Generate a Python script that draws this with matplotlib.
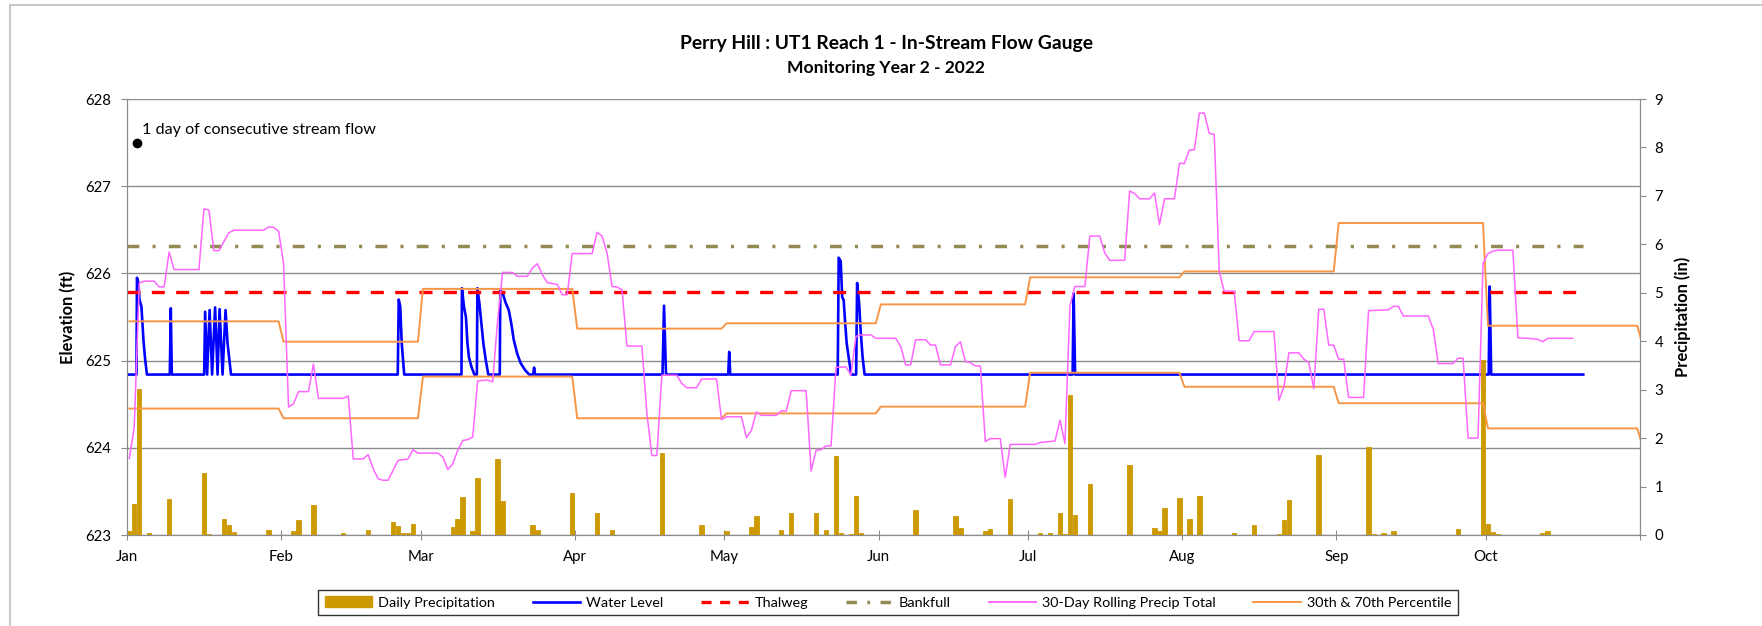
import pandas as pd
import matplotlib
matplotlib.use('Agg')
import matplotlib.pyplot as plt
from matplotlib.lines import Line2D
from matplotlib.patches import Patch, Rectangle

plt.rcParams['font.family'] = ['Lato', 'DejaVu Sans']

start = pd.Timestamp('2022-01-01')
end = pd.Timestamp('2022-11-01')
mid = pd.Timedelta(hours=11)  # daily values sit in the middle of their day

# daily precipitation (in), day offset from Jan 1
precip_day = [0, 1, 2, 4, 8, 15, 16, 19, 20, 21, 28, 33, 34, 37, 43, 48, 53, 54, 55, 56,
              57, 65, 66, 67, 69, 70, 74, 75, 81, 82, 89, 94, 97, 107, 115, 120, 125, 126,
              131, 133, 138, 140, 142, 143, 145, 146, 147, 158, 166, 167, 172, 173, 177,
              183, 185, 187, 188, 189, 190, 193, 201, 206, 207, 208, 211, 213, 215, 222,
              226, 231, 232, 233, 239, 249, 250, 252, 254, 267, 272, 273, 274, 275, 284, 285]
precip_in = [0.08, 0.64, 3.02, 0.04, 0.75, 1.28, 0.02, 0.33, 0.21, 0.07, 0.10, 0.09, 0.30,
             0.61, 0.05, 0.10, 0.26, 0.19, 0.05, 0.05, 0.23, 0.16, 0.33, 0.78, 0.08, 1.18,
             1.57, 0.71, 0.21, 0.10, 0.87, 0.45, 0.10, 1.69, 0.21, 0.08, 0.17, 0.40, 0.10,
             0.45, 0.46, 0.10, 1.63, 0.04, 0.02, 0.81, 0.05, 0.52, 0.39, 0.15, 0.08, 0.12,
             0.75, 0.05, 0.05, 0.46, 0.02, 2.89, 0.41, 1.06, 1.45, 0.15, 0.09, 0.56, 0.77,
             0.32, 0.80, 0.04, 0.21, 0.02, 0.30, 0.73, 1.66, 1.82, 0.02, 0.04, 0.08, 0.12,
             3.61, 0.23, 0.07, 0.03, 0.04, 0.09]

# water level (ft), fractional day offset from Jan 1
wl_day = [0, 1.9, 2.0, 2.3, 2.5, 2.9, 3.1, 3.3, 3.6, 4.0,
          8.6, 8.8, 9.0,
          15.5, 15.7, 16.1, 16.6, 17.1, 17.7, 18.2, 18.6, 19.2, 19.8, 20.2, 20.9,
          54.4, 54.6, 54.9, 55.2, 55.7,
          67.2, 67.3, 67.7, 68.1, 68.4, 68.7, 69.2, 69.8,
          70.3, 70.4, 70.8, 71.2, 71.6, 72.1, 72.6,
          74.9, 75.0, 75.5, 76.1, 76.7, 77.2, 77.7, 78.4, 79.1, 80.0, 80.8, 81.6, 81.8, 82.0,
          107.6, 107.9, 108.3, 120.8, 121.0, 121.2,
          142.8, 143.0, 143.4, 143.7, 144.0, 144.3, 144.6, 145.0, 145.5,
          146.5, 146.7, 147.1, 147.4, 147.8, 148.2,
          190.0, 190.2, 190.5, 273.6, 273.8, 274.1, 292.6]
wl_ft = [624.84, 624.84, 625.95, 625.89, 625.70, 625.62, 625.43, 625.24, 625.04, 624.84,
         624.84, 625.60, 624.84,
         624.84, 625.56, 624.84, 625.58, 624.84, 625.61, 624.84, 625.59, 624.84, 625.58, 625.20, 624.84,
         624.84, 625.70, 625.62, 625.20, 624.84,
         624.84, 625.83, 625.62, 625.50, 625.20, 625.04, 624.93, 624.84,
         624.84, 625.83, 625.66, 625.43, 625.20, 625.00, 624.84,
         624.84, 625.81, 625.77, 625.66, 625.58, 625.43, 625.24, 625.08, 624.97, 624.89, 624.84,
         624.84, 624.92, 624.84,
         624.84, 625.63, 624.84, 624.84, 625.10, 624.84,
         624.84, 626.18, 626.14, 625.73, 625.69, 625.43, 625.20, 625.04, 624.84,
         624.84, 625.89, 625.66, 625.35, 625.04, 624.84,
         624.84, 625.77, 624.84, 624.84, 625.85, 624.84, 624.84]

thalweg_ft = 625.79
bankfull_ft = 626.31
ref_end_day = 292.6

# 30-day rolling precipitation total (in)
roll_day = [0, 1, 2, 3, 5, 6, 7, 8, 9, 14, 15, 16, 17, 18, 20, 21, 27, 28, 29, 30, 31, 32,
            33, 34, 36, 37, 38, 43, 44, 45, 47, 48, 49, 50, 51, 52, 54, 56, 57, 58, 62, 63,
            64, 65, 66, 67, 68, 69, 70, 72, 73, 74, 75, 77, 78, 80, 81, 82, 83, 84, 86, 87,
            88, 89, 93, 94, 95, 96, 97, 98, 99, 100, 103, 104, 105, 106, 107, 110, 111, 112,
            114, 115, 118, 119, 120, 123, 124, 125, 126, 127, 130, 131, 132, 133, 136, 137,
            138, 139, 140, 141, 142, 144, 145, 146, 147, 149, 150, 154, 155, 156, 157, 158,
            160, 161, 162, 163, 165, 166, 167, 168, 169, 170, 171, 172, 173, 175, 176, 177,
            182, 183, 186, 187, 188, 189, 190, 192, 193, 195, 196, 197, 200, 201, 202, 203,
            205, 206, 207, 208, 210, 211, 212, 213, 214, 215, 216, 217, 218, 219, 220, 222,
            223, 225, 226, 230, 231, 232, 233, 235, 236, 237, 238, 239, 240, 241, 242, 243,
            244, 245, 248, 249, 253, 254, 255, 256, 261, 262, 263, 266, 267, 268, 269, 271,
            272, 273, 274, 275, 278, 279, 281, 283, 284, 285, 290]
roll_in = [1.58, 2.23, 5.20, 5.24, 5.24, 5.12, 5.12, 5.84, 5.48, 5.48, 6.73, 6.71, 5.87,
           5.87, 6.24, 6.29, 6.29, 6.36, 6.35, 6.27, 5.61, 2.64, 2.71, 2.96, 2.96, 3.53,
           2.82, 2.82, 2.87, 1.57, 1.57, 1.66, 1.37, 1.16, 1.13, 1.13, 1.54, 1.57, 1.76,
           1.69, 1.69, 1.61, 1.35, 1.47, 1.75, 1.95, 1.97, 2.02, 3.18, 3.20, 3.16, 4.41,
           5.42, 5.42, 5.34, 5.34, 5.51, 5.60, 5.37, 5.21, 5.17, 4.96, 4.96, 5.81, 5.81,
           6.25, 6.17, 5.82, 5.13, 5.12, 5.06, 3.90, 3.90, 2.51, 1.64, 1.64, 3.30, 3.30,
           3.13, 3.04, 3.04, 3.22, 3.22, 2.38, 2.44, 2.44, 2.01, 2.16, 2.54, 2.47, 2.47,
           2.56, 2.56, 2.98, 2.98, 1.32, 1.75, 1.76, 1.84, 1.84, 3.46, 3.47, 3.30, 4.10,
           4.13, 4.13, 4.06, 4.06, 3.89, 3.51, 3.51, 4.03, 4.03, 3.92, 3.92, 3.51, 3.51,
           3.89, 3.99, 3.58, 3.56, 3.49, 3.49, 1.93, 1.99, 1.99, 1.19, 1.87, 1.87, 1.91,
           1.94, 2.37, 1.89, 4.73, 5.13, 5.13, 6.17, 6.17, 5.82, 5.67, 5.67, 7.10, 7.05,
           6.94, 6.94, 7.06, 6.41, 6.94, 6.94, 7.67, 7.67, 7.95, 7.95, 8.71, 8.71, 8.29,
           8.27, 5.44, 5.03, 5.03, 4.01, 4.01, 4.20, 4.20, 2.78, 3.06, 3.76, 3.76, 3.63,
           3.56, 3.02, 4.66, 4.66, 3.92, 3.92, 3.63, 3.63, 2.84, 2.84, 4.63, 4.65, 4.72,
           4.72, 4.52, 4.52, 4.25, 3.54, 3.54, 3.65, 3.65, 2.00, 2.00, 5.61, 5.81, 5.86,
           5.88, 5.88, 4.07, 4.06, 4.04, 3.99, 4.06, 4.06]

# monthly 30th / 70th percentile of 30-day totals (in), Jan..Nov
pct_months = pd.date_range('2022-01-01', '2022-11-01', freq='MS')
pct70_in = [4.41, 3.99, 5.08, 4.26, 4.37, 4.76, 5.32, 5.44, 6.44, 4.32, 3.95]
pct30_in = [2.61, 2.41, 3.27, 2.41, 2.51, 2.65, 3.35, 3.06, 2.72, 2.20, 1.85]

month_labels = ['Jan', 'Feb', 'Mar', 'Apr', 'May', 'Jun', 'Jul', 'Aug', 'Sep', 'Oct', '']
note_day, note_ft = 2.1, 627.5
note_text = '1 day of consecutive stream flow'

c_bar = '#CC9900'
c_wl = '#0000FF'
c_thal = '#FF0000'
c_bank = '#948A54'
c_roll = '#FF66FF'
c_pct = '#F79646'
c_grid = '#8C8C8C'


def days(d):
    return [start + pd.Timedelta(days=x) for x in d]


fig = plt.figure(figsize=(17.62, 6.26), dpi=100)
fig.patches.append(Rectangle((10 / 1762, -0.1), 1.2, 1.1 - 5 / 626, transform=fig.transFigure,
                             fill=False, edgecolor='#BDBDBD', linewidth=1.2))

ax = fig.add_axes([127 / 1762, 1 - 535 / 626, (1640 - 127) / 1762, (535 - 99) / 626])
ax2 = ax.twinx()

# right axis: precipitation
ax2.bar(days(precip_day), precip_in, width=0.9, align='edge', color=c_bar,
        edgecolor=c_bar, linewidth=0.6, zorder=1)
roll_x = [t + mid for t in days(roll_day)]
ax2.plot(roll_x, roll_in, color=c_roll, lw=1.1, zorder=3)
for vals in (pct70_in, pct30_in):
    xs, ys = [], []
    for i, m in enumerate(pct_months):
        last = pct_months[i + 1] - pd.Timedelta(days=1) if i + 1 < len(pct_months) else m
        xs += [m + mid, last + mid]
        ys += [vals[i], vals[i]]
    ax2.plot(xs, ys, color=c_pct, lw=1.4, zorder=2)

# left axis: elevation
ax.plot(days(wl_day), wl_ft, color=c_wl, lw=1.9, zorder=3)
ref_x = [start, start + pd.Timedelta(days=ref_end_day)]
ax.plot(ref_x, [thalweg_ft] * 2, color=c_thal, lw=2.4, dashes=(3.9, 3.4), zorder=4)
ax.plot(ref_x, [bankfull_ft] * 2, color=c_bank, lw=2.5, dashes=(3.4, 3.8, 0.9, 3.8), zorder=4)
ax.plot(days([note_day]), [note_ft], 'o', color='black', ms=6, zorder=5)
ax.text(start + pd.Timedelta(days=note_day + 1.0), note_ft + 0.15, note_text,
        fontsize=11.6, va='center', ha='left')

ax.set_zorder(2)
ax2.set_zorder(3)
ax.patch.set_visible(False)

ax.set_xlim(start, end)
ax.set_ylim(623, 628)
ax2.set_ylim(0, 9)
ax.set_yticks(range(623, 629))
ax2.set_yticks(range(0, 10))
ax.set_xticks(pct_months)
ax.set_xticklabels(month_labels)
ax.grid(axis='y', color=c_grid, lw=1.0)
ax.set_axisbelow(True)

for a in (ax, ax2):
    for s in a.spines.values():
        s.set_color(c_grid)
    a.spines['top'].set_visible(False)
ax.tick_params(axis='y', direction='out', length=4.5, color=c_grid, labelsize=10.8, pad=7)
ax.tick_params(axis='x', direction='inout', length=7, color=c_grid, labelsize=10.8, pad=7)
ax2.tick_params(axis='y', direction='out', length=4.5, color=c_grid, labelsize=10.8, pad=6)

ax.set_ylabel('Elevation (ft)', fontsize=11.9, fontweight='bold', labelpad=6)
ax2.set_ylabel('Precipitation (in)', fontsize=11.9, fontweight='bold', labelpad=8)

fig.text(0.503, 1 - 43 / 626, 'Perry Hill : UT1 Reach 1 - In-Stream Flow Gauge',
         fontsize=13.9, fontweight='bold', ha='center', va='center')
fig.text(0.503, 1 - 68 / 626, 'Monitoring Year 2 - 2022',
         fontsize=12.6, fontweight='bold', ha='center', va='center')

handles = [Patch(facecolor=c_bar, edgecolor=c_bar),
           Line2D([], [], color=c_wl, lw=1.9),
           Line2D([], [], color=c_thal, lw=2.4, dashes=(3.0, 2.6)),
           Line2D([], [], color=c_bank, lw=2.5, dashes=(3.0, 3.0, 0.8, 3.0)),
           Line2D([], [], color=c_roll, lw=1.4),
           Line2D([], [], color=c_pct, lw=1.4)]
labels = ['Daily Precipitation', 'Water Level', 'Thalweg', 'Bankfull',
          '30-Day Rolling Precip Total', '30th & 70th Percentile']
leg = fig.legend(handles, labels, loc='center', bbox_to_anchor=(888 / 1762, 1 - 602.5 / 626),
                 ncol=6, fontsize=10.4, frameon=True, fancybox=False, edgecolor='black',
                 handlelength=3.3, handletextpad=0.4, columnspacing=2.6, borderpad=0.45)
leg.get_frame().set_linewidth(1.0)

fig.savefig('out.png', dpi=100)
